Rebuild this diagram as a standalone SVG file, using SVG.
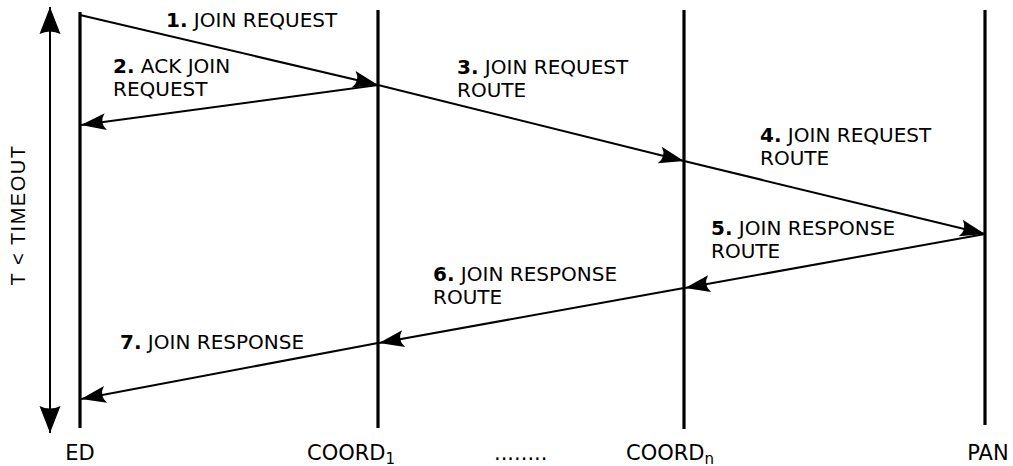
<svg xmlns="http://www.w3.org/2000/svg" width="1013" height="466" viewBox="0 0 1013 466">
  <style>
    .life { stroke: #000; stroke-width: 3.2; fill: none; }
    .msg { stroke: #000; stroke-width: 2; fill: none; marker-end: url(#head); }
    .lbl { font-family: "DejaVu Sans", sans-serif; font-size: 20px; fill: #000; }
    .num { font-weight: bold; }
    .node { font-family: "DejaVu Sans", sans-serif; font-size: 21px; fill: #000; }
    .sub { font-size: 15px; }
    .axis { font-family: "Liberation Sans", Arial, sans-serif; font-size: 20px; letter-spacing: 1.5px; fill: #000; }
  </style>
  <defs>
    <marker id="head" markerUnits="userSpaceOnUse" markerWidth="30" markerHeight="24" refX="26" refY="10" orient="auto" overflow="visible">
      <path d="M26,10 L1,1.5 Q8,10 1,18.5 Z" fill="#000"/>
    </marker>
    <marker id="bigHead" markerUnits="userSpaceOnUse" markerWidth="32" markerHeight="26" refX="28" refY="11" orient="auto-start-reverse" overflow="visible">
      <path d="M28,11 L1,0.5 Q6,11 1,21.5 Z" fill="#000"/>
    </marker>
  </defs>

  <!-- time span axis -->
  <g id="timeout">
    <line x1="50" y1="7" x2="50" y2="433" stroke="#000" stroke-width="2" marker-start="url(#bigHead)" marker-end="url(#bigHead)"/>
    <text class="axis" transform="translate(25,215) rotate(-90)" text-anchor="middle">T &lt; TIMEOUT</text>
  </g>

  <!-- lifelines -->
  <g id="ed">
    <line class="life" x1="80" y1="12" x2="80" y2="428"/>
    <text class="node" x="80" y="460" text-anchor="middle">ED</text>
  </g>
  <g id="coord1">
    <line class="life" x1="378" y1="10" x2="378" y2="428"/>
    <text class="node" x="307" y="460">COORD<tspan class="sub" dy="4">1</tspan></text>
  </g>
  <g id="ellipsis">
    <text class="node" x="494" y="460">........</text>
  </g>
  <g id="coordn">
    <line class="life" x1="684" y1="10" x2="684" y2="429"/>
    <text class="node" x="626" y="460">COORD<tspan class="sub" dy="4">n</tspan></text>
  </g>
  <g id="pan">
    <line class="life" x1="985" y1="10" x2="985" y2="425"/>
    <text class="node" x="988" y="460" text-anchor="middle">PAN</text>
  </g>

  <!-- messages -->
  <g id="connectors">
    <line class="msg" x1="80" y1="15" x2="378" y2="85"/>
    <line class="msg" x1="378" y1="85" x2="81" y2="125"/>
    <line class="msg" x1="378" y1="85" x2="684" y2="161"/>
    <line class="msg" x1="684" y1="161" x2="985" y2="234"/>
    <line class="msg" x1="985" y1="234" x2="685" y2="288"/>
    <line class="msg" x1="684" y1="288" x2="379" y2="343"/>
    <line class="msg" x1="378" y1="343" x2="81" y2="399"/>
  </g>

  <!-- message labels -->
  <g id="labels">
    <text class="lbl" x="166" y="27"><tspan class="num">1.</tspan> JOIN REQUEST</text>
    <text class="lbl" x="113" y="73"><tspan class="num">2.</tspan> ACK JOIN</text>
    <text class="lbl" x="113" y="96">REQUEST</text>
    <text class="lbl" x="457" y="74"><tspan class="num">3.</tspan> JOIN REQUEST</text>
    <text class="lbl" x="457" y="97">ROUTE</text>
    <text class="lbl" x="760" y="142"><tspan class="num">4.</tspan> JOIN REQUEST</text>
    <text class="lbl" x="760" y="165">ROUTE</text>
    <text class="lbl" x="711" y="235"><tspan class="num">5.</tspan> JOIN RESPONSE</text>
    <text class="lbl" x="711" y="258">ROUTE</text>
    <text class="lbl" x="433" y="281"><tspan class="num">6.</tspan> JOIN RESPONSE</text>
    <text class="lbl" x="433" y="304">ROUTE</text>
    <text class="lbl" x="120" y="349"><tspan class="num">7.</tspan> JOIN RESPONSE</text>
  </g>
</svg>
